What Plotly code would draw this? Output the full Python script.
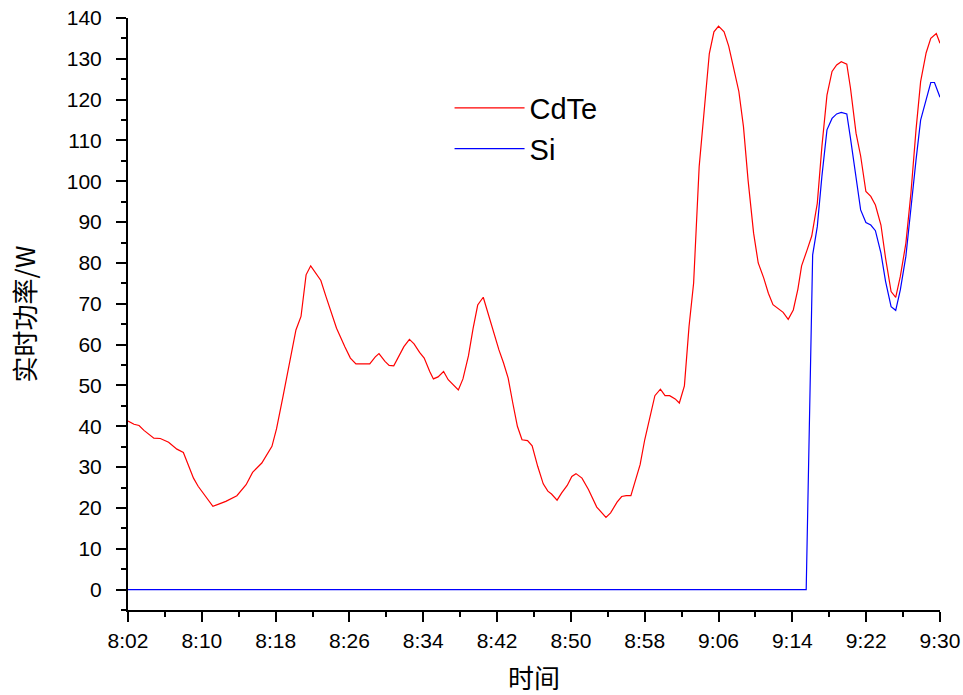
import plotly.graph_objects as go

# time in minutes after 8:00
cdte_time = [2.0, 2.65, 3.2, 3.73, 4.8, 5.5, 6.4, 7.3, 8.0, 9.1, 9.6, 11.2, 11.9, 12.6, 13.8, 14.8,
             15.5, 16.5, 17.6, 18.1, 18.8, 19.6, 20.2, 20.75, 21.3, 21.8, 22.9, 23.45, 24.1, 24.6,
             25.5, 26.1, 26.7, 28.2, 28.8, 29.2, 29.85, 30.3, 30.8, 31.3, 31.9, 32.5, 33.0, 33.6,
             34.1, 34.7, 35.1, 35.6, 36.2, 36.7, 37.3, 37.8, 38.3, 38.9, 39.4, 39.9, 40.5, 41.0,
             41.6, 42.2, 42.7, 43.2, 43.7, 44.2, 44.7, 45.3, 45.8, 46.4, 47.0, 47.5, 47.9, 48.5,
             49.0, 49.6, 50.1, 50.55, 51.2, 51.9, 52.8, 53.3, 53.8, 54.3, 55.0, 55.5, 56.0, 56.5,
             57.0, 57.5, 58.0, 58.6, 59.1, 59.7, 60.2, 60.7, 61.3, 61.75, 62.3, 62.8, 63.3, 63.9,
             64.5, 65.0, 65.5, 66.0, 66.6, 67.1, 67.6, 68.2, 68.7, 69.2, 69.8, 70.3, 70.9, 71.4,
             71.9, 72.5, 73.0, 73.55, 74.1, 74.6, 75.0, 75.6, 76.1, 76.7, 77.2, 77.75, 78.3, 78.8,
             79.3, 79.9, 80.3, 80.9, 81.4, 81.97, 82.5, 83.0, 83.6, 84.1, 84.7, 85.2, 85.7, 86.3,
             86.85, 87.4, 87.9, 88.5, 89.0, 89.6, 90.0]
cdte_power = [41.3, 40.5, 40.2, 39.0, 37.1, 37.0, 36.1, 34.4, 33.6, 27.3, 25.3, 20.4, 21.0, 21.6,
              23.0, 25.7, 28.7, 31.0, 35.1, 39.4, 47.3, 56.3, 63.6, 66.9, 77.1, 79.3, 75.7, 71.8,
              67.3, 64.0, 59.5, 56.7, 55.3, 55.3, 57.0, 57.8, 55.9, 54.9, 54.8, 57.0, 59.5, 61.3,
              60.2, 58.1, 56.7, 53.4, 51.6, 52.1, 53.4, 51.4, 49.9, 48.9, 51.6, 57.3, 64.0, 69.7,
              71.6, 67.7, 63.2, 58.7, 55.5, 51.8, 45.7, 40.0, 36.7, 36.5, 35.2, 30.2, 25.9, 24.1,
              23.4, 21.9, 23.7, 25.5, 27.7, 28.4, 27.3, 24.5, 20.2, 18.9, 17.7, 18.8, 21.4, 22.8,
              23.0, 23.0, 26.9, 30.6, 36.7, 42.2, 47.5, 49.1, 47.5, 47.5, 46.7, 45.7, 49.9, 64.4,
              75.1, 103.6, 119.1, 131.3, 136.6, 138.0, 136.6, 133.1, 128.1, 122.0, 113.4, 100.3,
              87.3, 80.0, 76.3, 72.6, 69.8, 68.7, 67.9, 66.2, 68.5, 73.6, 79.3, 83.2, 86.6, 94.6,
              108.5, 121.1, 126.9, 128.5, 129.3, 128.7, 122.8, 111.8, 106.2, 97.5, 96.3, 94.2,
              89.3, 81.2, 73.0, 71.6, 76.7, 84.8, 97.1, 112.6, 124.4, 131.5, 135.0, 136.2, 133.8]

si_time = [2.0, 75.5, 76.2, 76.7, 77.2, 77.75, 78.3, 78.8, 79.3, 79.9, 80.3, 80.9, 81.4, 81.97,
           82.5, 83.0, 83.6, 84.1, 84.7, 85.2, 85.7, 86.3, 86.85, 87.4, 87.9, 88.5, 89.0, 89.4, 90.0]
si_power = [0.0, 0.0, 82.0, 88.9, 101.2, 112.6, 115.4, 116.5, 116.9, 116.5, 110.5, 101.2, 93.0,
            89.9, 89.3, 87.9, 82.4, 75.5, 69.3, 68.4, 73.4, 81.6, 93.8, 105.2, 115.0, 120.3, 124.2,
            124.2, 120.6]

tick_vals = [2, 10, 18, 26, 34, 42, 50, 58, 66, 74, 82, 90]
tick_text = ["8:02", "8:10", "8:18", "8:26", "8:34", "8:42", "8:50", "8:58", "9:06", "9:14", "9:22", "9:30"]

fig = go.Figure()
fig.add_trace(go.Scatter(x=cdte_time, y=cdte_power, mode="lines", name="CdTe",
                         line=dict(color="#FF0000", width=1.2)))
fig.add_trace(go.Scatter(x=si_time, y=si_power, mode="lines", name="Si",
                         line=dict(color="#0000FF", width=1.2)))

axis_font = dict(family="Liberation Sans, Arial", size=21, color="black")
fig.update_layout(
    width=963, height=695,
    margin=dict(l=128, r=23, t=18, b=85),
    paper_bgcolor="white", plot_bgcolor="white",
    showlegend=True,
    legend=dict(x=0.396, y=0.891, xanchor="left", yanchor="top",
                font=dict(family="Liberation Sans, Arial", size=29, color="black"),
                bgcolor="rgba(0,0,0,0)", itemwidth=70, tracegroupgap=0),
    xaxis=dict(
        range=[2, 90], tickmode="array", tickvals=tick_vals, ticktext=tick_text,
        showgrid=False, zeroline=False, showline=True, linecolor="black", linewidth=2,
        ticks="outside", ticklen=10, tickwidth=2, tickcolor="black",
        tickfont=axis_font, automargin=False, ticklabelstandoff=1, ticklabeloverflow="allow",
        minor=dict(tickmode="linear", tick0=2, dtick=4, ticks="outside", ticklen=5,
                   tickwidth=2, tickcolor="black", showgrid=False),
        title=dict(text="时间", font=dict(family="Noto Sans CJK SC", size=26, color="black"),
                   standoff=28),
    ),
    yaxis=dict(
        range=[-5, 140], tickmode="linear", tick0=0, dtick=10,
        showgrid=False, zeroline=False, showline=True, linecolor="black", linewidth=2,
        ticks="outside", ticklen=10, tickwidth=2, tickcolor="black",
        tickfont=axis_font, ticklabelstandoff=10, automargin=False, ticklabeloverflow="allow",
        minor=dict(tickmode="linear", tick0=5, dtick=10, ticks="outside", ticklen=5,
                   tickwidth=2, tickcolor="black", showgrid=False),
        title=dict(text="实时功率/W", font=dict(family="Noto Sans CJK SC", size=26, color="black"),
                   standoff=24),
    ),
)

fig.write_html("out.html", config={"displayModeBar": False},
               post_script="document.body.style.margin='0';")
